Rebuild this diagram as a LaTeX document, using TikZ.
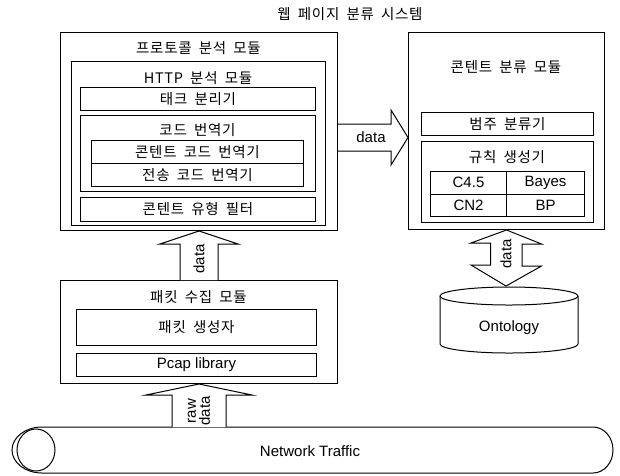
\documentclass[tikz,border=0pt]{standalone}
\usepackage{fontspec}
\setmainfont{Liberation Sans}
\newfontfamily\kr[LetterSpace=5,WordSpace=1.8]{Noto Sans CJK KR}
\usetikzlibrary{calc,positioning}

\tikzset{
  modbox/.style={draw, line width=1pt, inner sep=0pt, anchor=north west},
  kor/.style={font=\kr\fontsize{14.5}{16}\selectfont},
  lat/.style={font=\fontsize{15}{14}\selectfont},
  blkarrow/.style={draw, line width=1pt, fill=white, line join=miter},
}

\begin{document}
\begin{tikzpicture}[x=1pt, y=-1pt]
\useasboundingbox (0,0) rectangle (620,475);

% title
\node[kor] (title) at (350,14) {웹 페이지 분류 시스템};

% protocol analysis module
\node[modbox, minimum width=277pt, minimum height=198pt] (proto) at (60,32) {};
\node[kor] (protot) at (198.5,48) {프로토콜 분석 모듈};
\node[modbox, minimum width=254pt, minimum height=164pt] (http) at (71,61) {};
\node[kor] (httpt) at (198,78) {HTTP 분석 모듈};
\node[modbox, kor, minimum width=235pt, minimum height=23pt] (tag) at (80,87) {태크 분리기};
\node[modbox, minimum width=235pt, minimum height=76pt] (code) at (80,115) {};
\node[kor] (codet) at (197.5,130) {코드 번역기};
\node[modbox, kor, minimum width=212pt, minimum height=23pt] (ccode) at (91,140) {콘텐트 코드 번역기};
\node[modbox, kor, minimum width=212pt, minimum height=23pt] (tcode) at (91,163) {전송 코드 번역기};
\node[modbox, kor, minimum width=235pt, minimum height=24pt] (filt) at (80,197) {콘텐트 유형 필터};

% content classification module
\node[modbox, minimum width=196pt, minimum height=197pt] (cls) at (408,32) {};
\node[kor] (clst) at (506,67) {콘텐트 분류 모듈};
\node[modbox, kor, minimum width=172pt, minimum height=23pt] (cat) at (421,112) {범주 분류기};
\node[modbox, minimum width=172pt, minimum height=81pt] (rule) at (421,141) {};
\node[kor] (rulet) at (507,157) {규칙 생성기};
\node[modbox, lat, minimum width=76pt, minimum height=22.5pt] (c45) at (430,171) {C4.5};
\node[modbox, lat, minimum width=78pt, minimum height=22.5pt] (bayes) at (506,171) {Bayes};
\node[modbox, lat, minimum width=76pt, minimum height=22.5pt] (cn2) at (430,193.5) {CN2};
\node[modbox, lat, minimum width=78pt, minimum height=22.5pt] (bp) at (506,193.5) {BP};

% packet capture module
\node[modbox, minimum width=277pt, minimum height=103pt] (pkt) at (60,280) {};
\node[kor] (pktt) at (198.5,297) {패킷 수집 모듈};
\node[modbox, kor, minimum width=240pt, minimum height=36pt] (gen) at (76,309) {패킷 생성자};
\node[modbox, lat, minimum width=240pt, minimum height=23pt] (pcap) at (76,353) {Pcap library};

% ontology
\draw[line width=1pt, fill=white] (440,296) -- (440,344) arc[start angle=180, end angle=360, x radius=69pt, y radius=9pt] -- (578,296);
\draw[line width=1pt] (509,296) ellipse [x radius=69pt, y radius=9pt];
\node[lat] (onto) at (509,328) {Ontology};
\coordinate (ontotop) at (506,286);

% network traffic
\draw[line width=1pt] (42,427) -- (593,427) arc[start angle=90, end angle=-90, x radius=20pt, y radius=23pt] -- (42,473) arc[start angle=270, end angle=90, x radius=30pt, y radius=23pt] -- cycle;
\draw[line width=1pt] (36,450) ellipse [x radius=19pt, y radius=21pt];
\node[lat] (net) at (310,451) {Network Traffic};
\coordinate (nettop) at (199,427);

% data arrows
\draw[blkarrow] ($(pkt.north)+(-19,0)$) -- ($(proto.south)+(-19,13)$) -- ($(proto.south)+(-39,13)$) -- (proto.south) -- ($(proto.south)+(39,13)$) -- ($(proto.south)+(19,13)$) -- ($(pkt.north)+(19,0)$);
\node[lat, rotate=90] (d1) at ($(proto.south)+(0,28)$) {data};

\draw[blkarrow] (proto.east |- 0,124) -- ($(cls.west |- 0,124)+(-17,0)$) -- ($(cls.west |- 0,110)+(-17,0)$) -- (cls.west |- 0,137.5) -- ($(cls.west |- 0,165)+(-17,0)$) -- ($(cls.west |- 0,151)+(-17,0)$) -- (proto.east |- 0,151);
\node[lat] (d2) at (371,137) {data};

\draw[blkarrow] (cls.south) -- ++(35,14) -- ++(-19.5,0) -- ++(0,22) -- ++(19.5,0) -- (ontotop) -- ++(-35,-21) -- ++(19.5,0) -- ++(0,-22) -- ++(-19.5,0) -- cycle;
\node[lat, rotate=90] (d3) at (506,254) {data};

\coordinate (rawtip) at (nettop |- pkt.south);
\draw[blkarrow] ($(nettop)+(-27,0)$) -- ($(rawtip)+(-27,11)$) -- ($(rawtip)+(-53,11)$) -- (rawtip) -- ($(rawtip)+(53,11)$) -- ($(rawtip)+(27,11)$) -- ($(nettop)+(27,0)$);
\node[lat, rotate=90, align=center] (d4) at ($(rawtip)+(0,27)$) {raw\\data};
\end{tikzpicture}
\end{document}
